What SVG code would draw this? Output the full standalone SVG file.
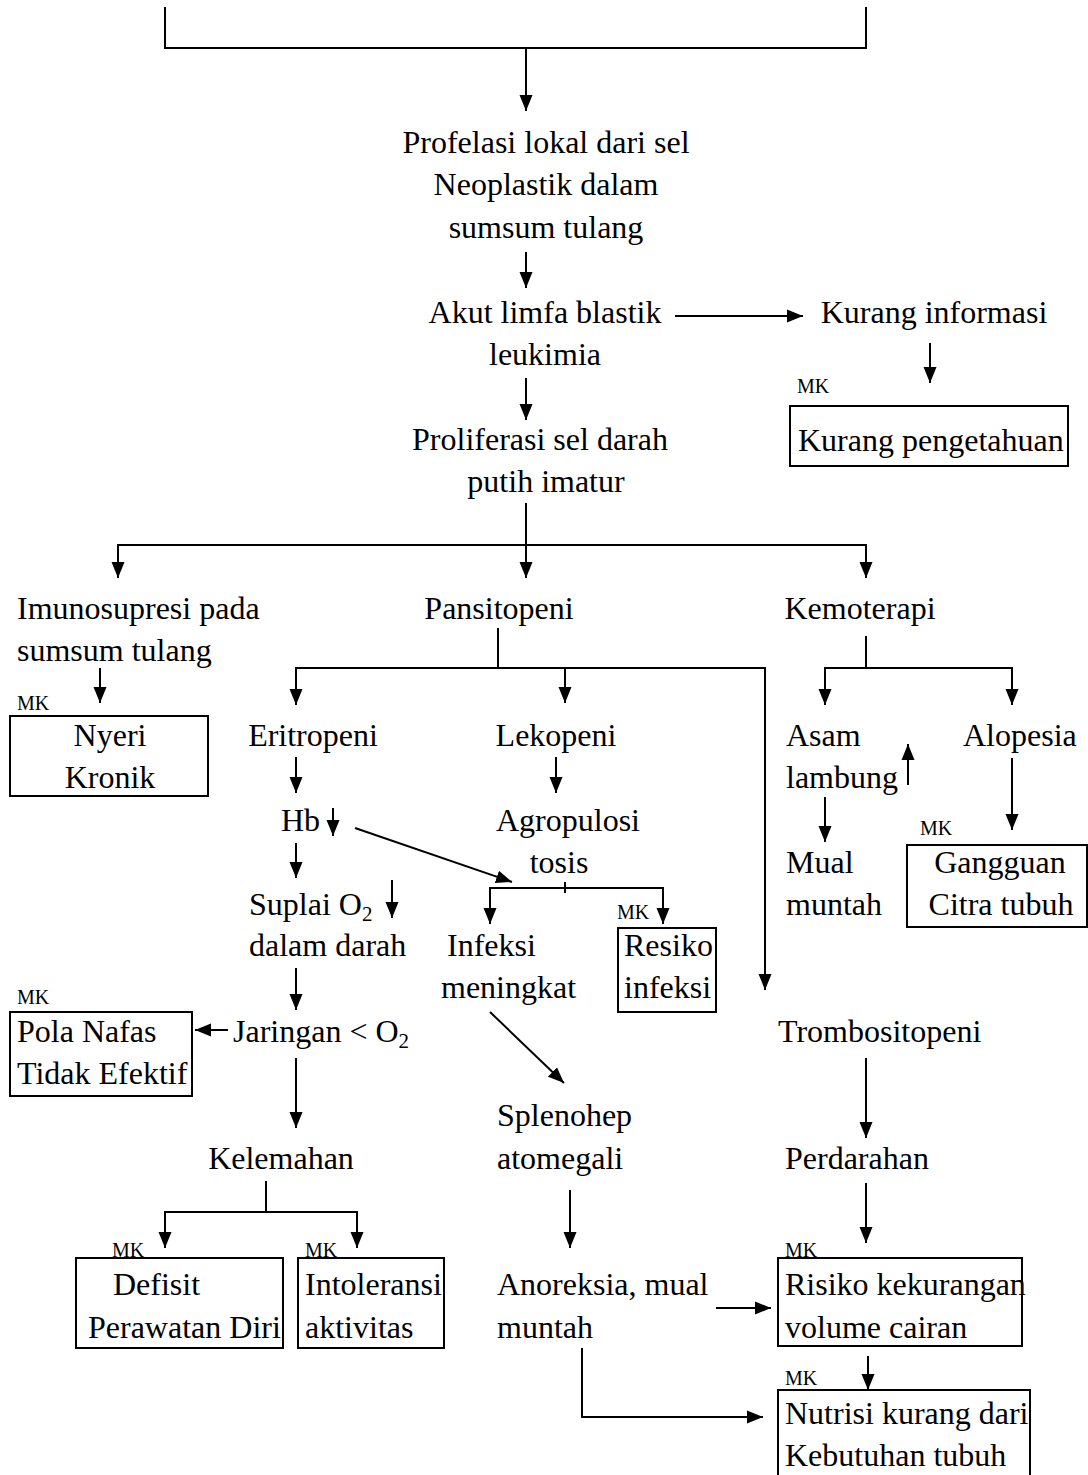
<svg xmlns="http://www.w3.org/2000/svg" width="1088" height="1475" viewBox="0 0 1088 1475">
<defs>
<marker id="ah" markerUnits="userSpaceOnUse" markerWidth="17" markerHeight="14" refX="16" refY="7" orient="auto"><path d="M0,0.5 L16,7 L0,13.5 z" fill="#000"/></marker>
</defs>
<style>
text{font-family:"Liberation Serif","Times New Roman",serif;font-size:32px;fill:#000}
.mk{font-size:20px}
.c{text-anchor:middle}
.ln{stroke:#000;stroke-width:2;fill:none}
.ar{stroke:#000;stroke-width:2;fill:none;marker-end:url(#ah)}
.box{fill:none;stroke:#000;stroke-width:2}
.sub{font-size:21px}
</style>
<rect width="1088" height="1475" fill="#fff"/>
<g id="connectors">
<path class="ln" d="M165,7 V48 H866 V7"/>
<line class="ar" x1="526" y1="48" x2="526" y2="111"/>
<line class="ar" x1="526" y1="252" x2="526" y2="288"/>
<line class="ar" x1="675" y1="316" x2="803" y2="316"/>
<line class="ar" x1="930" y1="343" x2="930" y2="383"/>
<line class="ar" x1="526" y1="378" x2="526" y2="420"/>
<line class="ln" x1="526" y1="503" x2="526" y2="545"/>
<line class="ln" x1="117" y1="545" x2="867" y2="545"/>
<line class="ar" x1="118" y1="545" x2="118" y2="578"/>
<line class="ar" x1="526" y1="545" x2="526" y2="578"/>
<line class="ar" x1="866" y1="545" x2="866" y2="578"/>
<line class="ar" x1="100" y1="668" x2="100" y2="703"/>
<line class="ln" x1="498" y1="628" x2="498" y2="668"/>
<line class="ln" x1="295" y1="668" x2="766" y2="668"/>
<line class="ar" x1="296" y1="668" x2="296" y2="705"/>
<line class="ar" x1="565" y1="668" x2="565" y2="703"/>
<line class="ar" x1="765" y1="668" x2="765" y2="990"/>
<line class="ln" x1="866" y1="636" x2="866" y2="668"/>
<line class="ln" x1="824" y1="668" x2="1013" y2="668"/>
<line class="ar" x1="825" y1="668" x2="825" y2="705"/>
<line class="ar" x1="1012" y1="668" x2="1012" y2="705"/>
<line class="ar" x1="296" y1="757" x2="296" y2="793"/>
<line class="ar" x1="556" y1="757" x2="556" y2="793"/>
<line class="ar" x1="908" y1="785" x2="908" y2="744"/>
<line class="ar" x1="1012" y1="758" x2="1012" y2="830"/>
<line class="ar" x1="825" y1="797" x2="825" y2="842"/>
<line class="ar" x1="333" y1="808" x2="333" y2="836"/>
<line class="ar" x1="296" y1="843" x2="296" y2="878"/>
<line class="ar" x1="355" y1="828" x2="512" y2="882"/>
<line class="ln" x1="565" y1="882" x2="565" y2="893"/>
<line class="ln" x1="489" y1="888" x2="664" y2="888"/>
<line class="ar" x1="490" y1="888" x2="490" y2="924"/>
<line class="ar" x1="663" y1="888" x2="663" y2="924"/>
<line class="ar" x1="392" y1="880" x2="392" y2="918"/>
<line class="ar" x1="296" y1="968" x2="296" y2="1010"/>
<line class="ar" x1="228" y1="1030" x2="195" y2="1030"/>
<line class="ar" x1="296" y1="1058" x2="296" y2="1128"/>
<line class="ln" x1="266" y1="1181" x2="266" y2="1212"/>
<line class="ln" x1="164" y1="1212" x2="358" y2="1212"/>
<line class="ar" x1="165" y1="1212" x2="165" y2="1248"/>
<line class="ar" x1="357" y1="1212" x2="357" y2="1248"/>
<line class="ar" x1="490" y1="1012" x2="564" y2="1083"/>
<line class="ar" x1="570" y1="1190" x2="570" y2="1248"/>
<line class="ar" x1="716" y1="1308" x2="771" y2="1308"/>
<path class="ar" d="M582,1348 V1417 H763"/>
<line class="ar" x1="866" y1="1058" x2="866" y2="1138"/>
<line class="ar" x1="866" y1="1183" x2="866" y2="1243"/>
<line class="ar" x1="868" y1="1356" x2="868" y2="1390"/>
</g>
<g id="n_profelasi"><text class="c" x="546" y="153">Profelasi lokal dari sel</text><text class="c" x="546" y="195">Neoplastik dalam</text><text class="c" x="546" y="238">sumsum tulang</text></g>
<g id="n_akut"><text class="c" x="545" y="323">Akut limfa blastik</text><text class="c" x="545" y="365">leukimia</text></g>
<g id="n_kurang_info"><text class="c" x="934" y="323">Kurang informasi</text></g>
<g id="n_kurang_peng"><text class="mk" x="797" y="393">MK</text><rect class="box" x="790" y="406" width="278" height="60"/><text x="798" y="451">Kurang pengetahuan</text></g>
<g id="n_prolif"><text class="c" x="540" y="450">Proliferasi sel darah</text><text class="c" x="546" y="492">putih imatur</text></g>
<g id="n_imuno"><text x="17" y="619">Imunosupresi pada</text><text x="17" y="661">sumsum tulang</text></g>
<g id="n_pansi"><text class="c" x="499" y="619">Pansitopeni</text></g>
<g id="n_kemo"><text class="c" x="860" y="619">Kemoterapi</text></g>
<g id="n_nyeri"><text class="mk" x="17" y="710">MK</text><rect class="box" x="10" y="716" width="198" height="80"/><text class="c" x="110" y="746">Nyeri</text><text class="c" x="110" y="788">Kronik</text></g>
<g id="n_eritro"><text class="c" x="313" y="746">Eritropeni</text></g>
<g id="n_leko"><text class="c" x="556" y="746">Lekopeni</text></g>
<g id="n_asam"><text x="786" y="746">Asam</text><text x="786" y="788">lambung</text></g>
<g id="n_alopesia"><text x="963" y="746">Alopesia</text></g>
<g id="n_hb"><text x="281" y="831">Hb</text></g>
<g id="n_agro"><text class="c" x="568" y="831">Agropulosi</text><text class="c" x="559" y="873">tosis</text></g>
<g id="n_mual"><text x="786" y="873">Mual</text><text x="786" y="915">muntah</text></g>
<g id="n_gangguan"><text class="mk" x="920" y="835">MK</text><rect class="box" x="907" y="845" width="180" height="82"/><text class="c" x="1000" y="873">Gangguan</text><text class="c" x="1001" y="915">Citra tubuh</text></g>
<g id="n_suplai"><text x="249" y="915">Suplai O<tspan class="sub" dy="6">2</tspan></text><text x="249" y="956">dalam darah</text></g>
<g id="n_resiko"><text class="mk" x="617" y="919">MK</text><rect class="box" x="618" y="928" width="98" height="84"/><text x="624" y="956">Resiko</text><text x="624" y="998">infeksi</text></g>
<g id="n_infeksi"><text x="447" y="956">Infeksi</text><text x="441" y="998">meningkat</text></g>
<g id="n_pola"><text class="mk" x="17" y="1004">MK</text><rect class="box" x="10" y="1012" width="182" height="84"/><text x="17" y="1042">Pola Nafas</text><text x="17" y="1084">Tidak Efektif</text></g>
<g id="n_jaringan"><text x="233" y="1042">Jaringan &lt; O<tspan class="sub" dy="6">2</tspan></text></g>
<g id="n_trombo"><text x="778" y="1042">Trombositopeni</text></g>
<g id="n_spleno"><text x="497" y="1126">Splenohep</text><text x="497" y="1169">atomegali</text></g>
<g id="n_kelemahan"><text class="c" x="281" y="1169">Kelemahan</text></g>
<g id="n_perdarahan"><text x="785" y="1169">Perdarahan</text></g>
<g id="n_defisit"><text class="mk" x="112" y="1257">MK</text><rect class="box" x="76" y="1258" width="207" height="90"/><text x="113" y="1295">Defisit</text><text x="88" y="1338">Perawatan Diri</text></g>
<g id="n_intol"><text class="mk" x="305" y="1257">MK</text><rect class="box" x="298" y="1258" width="146" height="90"/><text x="305" y="1295">Intoleransi</text><text x="305" y="1338">aktivitas</text></g>
<g id="n_anoreksia"><text x="497" y="1295">Anoreksia, mual</text><text x="497" y="1338">muntah</text></g>
<g id="n_risiko"><text class="mk" x="785" y="1257">MK</text><rect class="box" x="778" y="1258" width="244" height="88"/><text x="785" y="1295">Risiko kekurangan</text><text x="785" y="1338">volume cairan</text></g>
<g id="n_nutrisi"><text class="mk" x="785" y="1385">MK</text><rect class="box" x="778" y="1390" width="252" height="95"/><text x="785" y="1424">Nutrisi kurang dari</text><text x="785" y="1466">Kebutuhan tubuh</text></g>
</svg>
